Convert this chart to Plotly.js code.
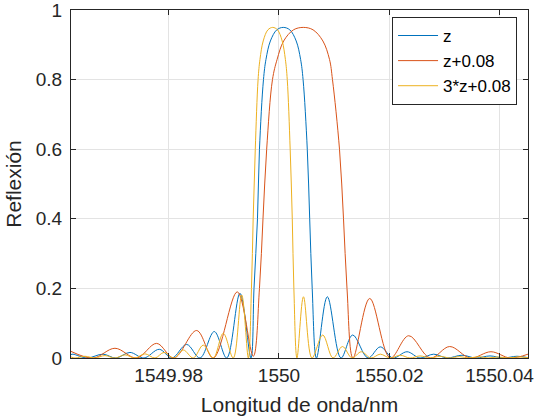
<!DOCTYPE html>
<html>
<head>
<meta charset="utf-8">
<script src="https://cdn.plot.ly/plotly-3.0.1.min.js"></script>
<style>html,body{margin:0;padding:0;background:#fff;}#chart{width:537px;height:419px;}</style>
</head>
<body>
<div id="chart"></div>
<script>
// Series names
const seriesNames = ["z", "z+0.08", "3*z+0.08"];

// Blue series: z
const wlZ = [1549.96229,1549.96265,1549.96519,1549.96809,1549.97044,1549.97298,1549.97552,1549.97830,1549.98060,1549.98326,1549.98568,1549.98827,1549.99052,1549.99293,1549.99492,1549.99547,1549.99610,1549.99646,1549.99719,1549.99764,1549.99844,1549.99960,1550.00078,1550.00196,1550.00312,1550.00392,1550.00437,1550.00513,1550.00557,1550.00602,1550.00680,1550.00876,1550.01124,1550.01336,1550.01614,1550.01837,1550.02067,1550.02321,1550.02557,1550.02805,1550.03046,1550.03318,1550.03572,1550.03826,1550.04062,1550.04315,1550.04515];
const rZ  = [0.010,0.011,0.000,0.011,0.000,0.016,0.000,0.025,0.000,0.039,0.000,0.076,0.000,0.186,0.000,0.200,0.400,0.600,0.800,0.858,0.911,0.943,0.950,0.943,0.911,0.858,0.800,0.600,0.400,0.200,0.000,0.176,0.000,0.066,0.000,0.032,0.000,0.018,0.000,0.011,0.000,0.008,0.000,0.006,0.000,0.005,0.001];

// Red series: z+0.08
const wlZ08 = [1549.96229,1549.96633,1549.97026,1549.97420,1549.97782,1549.98096,1549.98508,1549.98809,1549.99244,1549.99534,1549.99646,1549.99710,1549.99777,1549.99882,1549.99966,1550.00085,1550.00263,1550.00441,1550.00618,1550.00796,1550.00916,1550.00970,1550.01097,1550.01170,1550.01233,1550.01342,1550.01645,1550.02018,1550.02352,1550.02743,1550.03095,1550.03469,1550.03844,1550.04194,1550.04515];
const rZ08  = [0.019,0.000,0.028,0.000,0.042,0.000,0.079,0.000,0.190,0.005,0.200,0.400,0.600,0.800,0.858,0.911,0.943,0.950,0.943,0.911,0.858,0.800,0.600,0.400,0.200,0.000,0.171,0.000,0.064,0.000,0.033,0.000,0.018,0.000,0.011];

// Yellow series: 3*z+0.08
const wl3Z = [1549.96229,1549.96301,1549.96482,1549.96664,1549.96845,1549.97026,1549.97208,1549.97389,1549.97570,1549.97752,1549.97915,1549.98096,1549.98265,1549.98446,1549.98627,1549.98809,1549.98990,1549.99171,1549.99324,1549.99445,1549.99501,1549.99532,1549.99570,1549.99621,1549.99655,1549.99714,1549.99799,1549.99886,1549.99973,1550.00058,1550.00116,1550.00150,1550.00203,1550.00241,1550.00270,1550.00326,1550.00444,1550.00598,1550.00794,1550.00979,1550.01151,1550.01324,1550.01492,1550.01668,1550.01837,1550.02013,1550.02199,1550.02375,1550.02557,1550.02738,1550.02919,1550.03101,1550.03273,1550.03445,1550.03626,1550.03790,1550.03971,1550.04152,1550.04334,1550.04515];
const r3Z  = [0.003,0.000,0.005,0.000,0.007,0.000,0.009,0.000,0.012,0.000,0.016,0.000,0.023,0.000,0.037,0.000,0.071,0.000,0.181,0.000,0.200,0.400,0.600,0.800,0.858,0.911,0.943,0.950,0.943,0.911,0.858,0.800,0.600,0.400,0.200,0.000,0.176,0.000,0.066,0.000,0.033,0.000,0.018,0.000,0.011,0.000,0.008,0.000,0.006,0.000,0.005,0.000,0.004,0.000,0.004,0.000,0.003,0.000,0.003,0.001];

// Axis ticks
const xTickVals = [1549.98, 1550, 1550.02, 1550.04];
const xTickText = ["1549.98", "1550", "1550.02", "1550.04"];
const yTickVals = [0, 0.2, 0.4, 0.6, 0.8, 1];
const yTickText = ["0", "0.2", "0.4", "0.6", "0.8", "1"];

const colors = ["#0072BD", "#D95319", "#EDB120"];
const xs = [wlZ, wlZ08, wl3Z];
const ys = [rZ, rZ08, r3Z];

const traces = seriesNames.map((n, i) => ({
  x: xs[i], y: ys[i], name: n, type: "scatter", mode: "lines",
  line: {color: colors[i], width: 1, shape: "spline", smoothing: 1}
}));

const font = "Liberation Sans, Arial, Helvetica, sans-serif";
const layout = {
  width: 537, height: 419,
  margin: {l: 71, r: 9, t: 10, b: 61},
  paper_bgcolor: "#ffffff", plot_bgcolor: "#ffffff",
  font: {family: font, color: "#262626"},
  showlegend: true,
  legend: {
    x: 0.976, xanchor: "right", y: 0.98, yanchor: "top",
    bgcolor: "#ffffff", bordercolor: "#262626", borderwidth: 1,
    font: {size: 17, family: font, color: "#000000"},
    itemwidth: 40, tracegroupgap: 0
  },
  xaxis: {
    range: [1549.96229, 1550.04515],
    tickmode: "array", tickvals: xTickVals, ticktext: xTickText,
    ticks: "inside", ticklen: 5, tickcolor: "#262626",
    showline: true, linecolor: "#262626", linewidth: 1, mirror: "ticks",
    showgrid: true, gridcolor: "#e3e3e3", gridwidth: 1, zeroline: false,
    tickfont: {size: 19, family: font, color: "#262626"},
    ticklabeloverflow: "allow",
    title: {text: "Longitud de onda/nm", font: {size: 21, family: font, color: "#262626"}, standoff: 12},
    automargin: false
  },
  yaxis: {
    range: [0, 1],
    tickmode: "array", tickvals: yTickVals, ticktext: yTickText,
    ticks: "inside", ticklen: 5, tickcolor: "#262626",
    showline: true, linecolor: "#262626", linewidth: 1, mirror: "ticks",
    showgrid: true, gridcolor: "#e3e3e3", gridwidth: 1, zeroline: false,
    tickfont: {size: 19, family: font, color: "#262626"},
    ticklabeloverflow: "allow", ticklabelstandoff: 4,
    title: {text: "Reflexión", font: {size: 21, family: font, color: "#262626"}, standoff: 8},
    automargin: false
  }
};

Plotly.newPlot("chart", traces, layout, {staticPlot: true, displayModeBar: false});
</script>
</body>
</html>
